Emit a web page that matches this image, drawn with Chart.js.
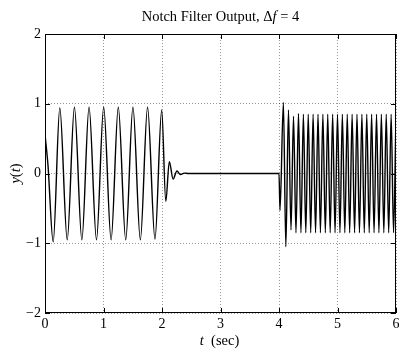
<!DOCTYPE html>
<html>
<head>
<meta charset="utf-8">
<script src="https://cdn.jsdelivr.net/npm/chart.js@4/dist/chart.umd.min.js"></script>
<style>
  html, body { margin: 0; padding: 0; background: #fff; }
  #wrap { width: 399px; height: 354px; }
</style>
</head>
<body>
<div id="wrap"><canvas id="c" width="399" height="354"></canvas></div>
<script>
// Axis ticks
const tTicks = [0, 1, 2, 3, 4, 5, 6];
const yTicks = [-2, -1, 0, 1, 2];

// 0–2 s: 4 Hz input passes through (turning points of the output)
const passLowTime = [0, 0.05, 0.14, 0.253, 0.38, 0.503, 0.63, 0.753, 0.88, 1.003,
                     1.13, 1.253, 1.38, 1.503, 1.63, 1.753, 1.88, 1.995];
const passLowOut  = [0.56, 0.13, -0.98, 0.94, -0.95, 0.95, -0.95, 0.95, -0.95, 0.95,
                     -0.95, 0.95, -0.95, 0.95, -0.95, 0.95, -0.94, 0.91];

// 2–4 s: input at the notch frequency, ringing dies out
const notchTime = [2.065, 2.125, 2.19, 2.255, 2.315, 2.38, 2.45, 4.0];
const notchOut  = [-0.40, 0.17, -0.08, 0.035, -0.015, 0.006, 0, 0];

// 4–6 s: 12 Hz input passes through
const passHighTime = [4.017, 4.075, 4.117, 4.162, 4.205, 4.248, 4.29, 4.333,
  4.375, 4.417, 4.458, 4.5, 4.542, 4.583, 4.625, 4.667, 4.708, 4.75, 4.792, 4.833,
  4.875, 4.917, 4.958, 5.0, 5.042, 5.083, 5.125, 5.167, 5.208, 5.25, 5.292, 5.333,
  5.375, 5.417, 5.458, 5.5, 5.542, 5.583, 5.625, 5.667, 5.708, 5.75, 5.792, 5.833,
  5.875, 5.917, 5.958, 6.0];
const passHighOut = [-0.53, 1.02, -1.05, 0.91, -0.81, 0.82, -0.85, 0.86,
  -0.85, 0.85, -0.85, 0.85, -0.85, 0.85, -0.85, 0.85, -0.85, 0.85, -0.85, 0.85,
  -0.85, 0.85, -0.85, 0.85, -0.85, 0.85, -0.85, 0.85, -0.85, 0.85, -0.85, 0.85,
  -0.85, 0.85, -0.85, 0.85, -0.85, 0.85, -0.85, 0.85, -0.85, 0.85, -0.85, 0.85,
  -0.85, 0.85, -0.85, 0.85];

const times = passLowTime.concat(notchTime, passHighTime);
const output = passLowOut.concat(notchOut, passHighOut);
const points = times.map((t, i) => ({ x: t, y: output[i] }));

const SERIF = '"Liberation Serif", "Times New Roman", serif';
const minus = v => (v < 0 ? '\u2212' + Math.abs(v) : String(v));

// Draws a run of [text, italic] pieces starting at x
function drawPieces(ctx, pieces, size, x, y) {
  let cx = x;
  for (const [txt, it] of pieces) {
    ctx.font = (it ? 'italic ' : '') + size + 'px ' + SERIF;
    ctx.fillText(txt, cx, y);
    cx += ctx.measureText(txt).width;
  }
}
function piecesWidth(ctx, pieces, size) {
  let w = 0;
  for (const [txt, it] of pieces) {
    ctx.font = (it ? 'italic ' : '') + size + 'px ' + SERIF;
    w += ctx.measureText(txt).width;
  }
  return w;
}

const frameAndText = {
  id: 'frameAndText',
  afterDraw(chart) {
    const { ctx, chartArea: a, scales } = chart;
    const xs = scales.x, ys = scales.y;
    ctx.save();
    ctx.strokeStyle = '#000';
    ctx.lineWidth = 1;
    ctx.strokeRect(Math.round(a.left) + 0.5, Math.round(a.top) + 0.5,
                   Math.round(a.right - a.left) - 1, Math.round(a.bottom - a.top) - 1);
    // inward tick marks on all four sides
    const tl = 5;
    ctx.beginPath();
    for (const v of tTicks) {
      const px = Math.round(xs.getPixelForValue(v)) + 0.5;
      ctx.moveTo(px, a.bottom); ctx.lineTo(px, a.bottom - tl);
      ctx.moveTo(px, a.top); ctx.lineTo(px, a.top + tl);
    }
    for (const v of yTicks) {
      const py = Math.round(ys.getPixelForValue(v)) + 0.5;
      ctx.moveTo(a.left, py); ctx.lineTo(a.left + tl, py);
      ctx.moveTo(a.right, py); ctx.lineTo(a.right - tl, py);
    }
    ctx.stroke();

    ctx.fillStyle = '#000';
    ctx.textBaseline = 'alphabetic';
    ctx.textAlign = 'left';
    const cx = (a.left + a.right) / 2;

    const title = [['Notch Filter Output, \u0394', false], ['f', true], [' = 4', false]];
    drawPieces(ctx, title, 14.5, cx - piecesWidth(ctx, title, 14.5) / 2, 21);

    const xt = [['t', true], ['  (sec)', false]];
    drawPieces(ctx, xt, 14.5, cx - 1 - piecesWidth(ctx, xt, 14.5) / 2, 345);

    const yt = [['y', true], ['(', false], ['t', true], [')', false]];
    ctx.translate(20, (a.top + a.bottom) / 2);
    ctx.rotate(-Math.PI / 2);
    drawPieces(ctx, yt, 14.5, -piecesWidth(ctx, yt, 14.5) / 2, 0);
    ctx.restore();
  }
};

new Chart(document.getElementById('c'), {
  type: 'line',
  data: {
    datasets: [{
      data: points,
      borderColor: '#000',
      borderWidth: 1.4,
      pointRadius: 0,
      fill: false,
      cubicInterpolationMode: 'monotone'
    }]
  },
  options: {
    responsive: false,
    devicePixelRatio: 1,
    animation: false,
    events: [],
    layout: { autoPadding: false, padding: { top: 34, right: 3, left: 0, bottom: 0 } },
    plugins: { legend: { display: false }, tooltip: { enabled: false }, title: { display: false } },
    scales: {
      x: {
        type: 'linear', min: 0, max: 6,
        afterFit(s) { s.height = 41; s.paddingLeft = 0; s.paddingRight = 0; },
        afterBuildTicks(s) { s.ticks = tTicks.map(v => ({ value: v })); },
        ticks: { color: '#000', font: { family: SERIF, size: 14 }, padding: 3, maxRotation: 0,
                 callback: v => minus(v) },
        grid: { color: 'rgba(0,0,0,0.4)', drawTicks: false, lineWidth: 1 },
        border: { display: false, dash: [1, 2] }
      },
      y: {
        type: 'linear', min: -2, max: 2,
        afterFit(s) { s.width = 45; s.paddingTop = 0; s.paddingBottom = 0; },
        afterBuildTicks(s) { s.ticks = yTicks.map(v => ({ value: v })); },
        ticks: { color: '#000', font: { family: SERIF, size: 14 }, padding: 4,
                 callback: v => minus(v) },
        grid: { color: 'rgba(0,0,0,0.4)', drawTicks: false, lineWidth: 1 },
        border: { display: false, dash: [1, 2] }
      }
    }
  },
  plugins: [frameAndText]
});
</script>
</body>
</html>
